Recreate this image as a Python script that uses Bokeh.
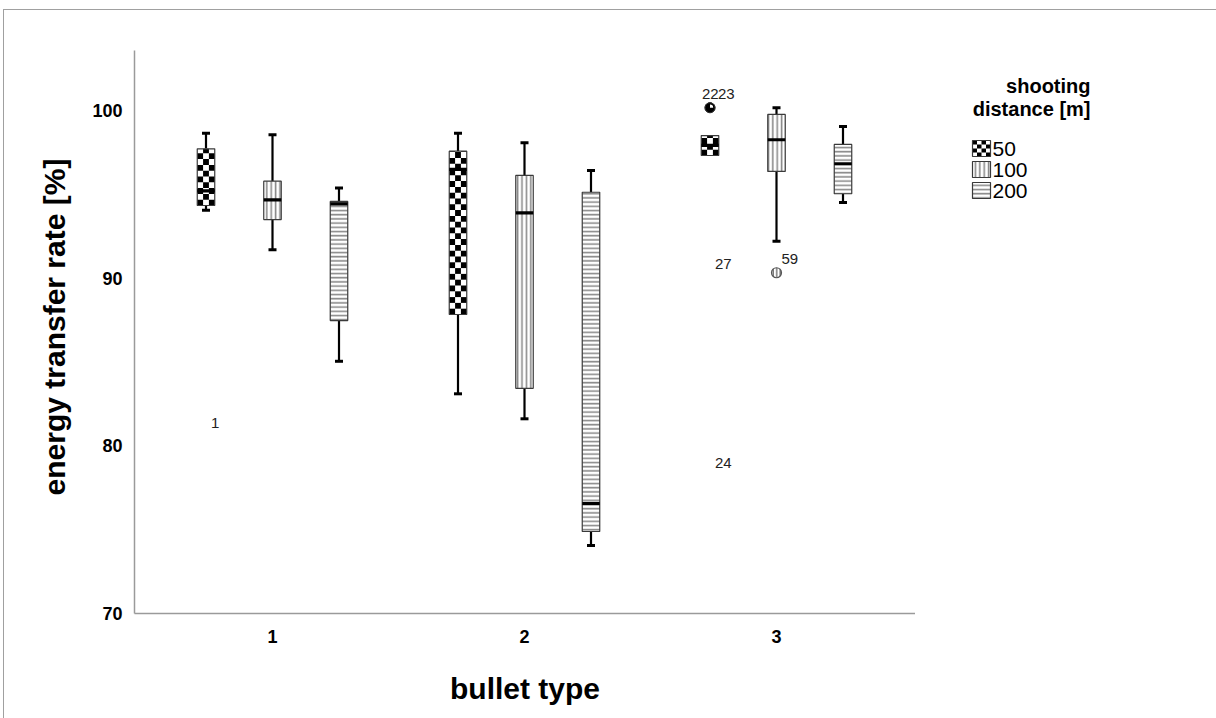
import numpy as np
from bokeh.plotting import figure
from bokeh.layouts import row
from bokeh.models import Range1d, FixedTicker
from bokeh.core.properties import value
from bokeh.embed import file_html
from bokeh.resources import INLINE

# ---------------- data ----------------
bullet_types = [1, 2, 3]
distances = ["50", "100", "200"]

box_bullet   = [1, 1, 1, 2, 2, 2, 3, 3, 3]
box_distance = ["50", "100", "200", "50", "100", "200", "50", "100", "200"]
whisker_low  = [94.04, 91.69, 85.04, 83.10, 81.61, 74.05, 97.31, 92.20, 94.51]
q1           = [94.33, 93.49, 87.47, 87.83, 83.43, 74.89, 97.31, 96.36, 95.03]
median       = [95.20, 94.67, 94.43, 96.48, 93.89, 76.56, 97.91, 98.25, 96.82]
q3           = [97.71, 95.78, 94.57, 97.57, 96.12, 95.12, 98.50, 99.76, 97.97]
whisker_high = [98.64, 98.55, 95.38, 98.64, 98.07, 96.42, 98.50, 100.16, 99.04]

out_bullet   = [1, 3, 3, 3, 3, 3]
out_distance = ["50", "50", "50", "50", "50", "100"]
out_value    = [80.55, 100.16, 100.16, 89.98, 78.11, 90.32]
out_case     = ["1", "22", "23", "27", "24", "59"]
out_marker   = [False, True, True, False, False, True]
out_label_dx = [5, -8, 8, 5, 5, 5]

y_ticks = [70, 80, 90, 100]
legend_title = ["shooting", "distance [m]"]

# ---------------- layout helpers ----------------
PX_X = 252.0      # pixels per bullet-type unit
PX_Y = 16.77      # pixels per percent
X0_PAGE = 272.0   # page x of category 1
Y0_PAGE = 613.0   # page y of 70 %

def px2x(px):
    return 1 + (px - X0_PAGE) / PX_X

def px2y(py):
    return 70 + (Y0_PAGE - py) / PX_Y

dodge = {"50": -66.5 / PX_X, "100": 0.0, "200": 66.5 / PX_X}
box_w = 17.5 / PX_X
cap_w = 8.0 / PX_X

x_start = px2x(134)
x_end = px2x(915)
y_end = px2y(40)

FONT = "Liberation Sans"
BOX_LINE = "#3a3a3a"
HATCH = "#8a8a8a"

p = figure(width=911, height=708, x_range=Range1d(x_start, x_end),
           y_range=Range1d(70, y_end), output_backend="svg",
           toolbar_location=None, min_border_left=130, min_border_right=0,
           min_border_top=30, min_border_bottom=105)
p.outline_line_color = None
p.xgrid.visible = False
p.ygrid.visible = False

for ax in (p.xaxis[0], p.yaxis[0]):
    ax.axis_line_color = "#9a9a9a"
    ax.axis_line_width = 1.5
    ax.major_tick_line_color = None
    ax.minor_tick_line_color = None
    ax.major_label_text_font = FONT
    ax.major_label_text_font_style = "bold"
    ax.major_label_text_font_size = "18px"
    ax.major_label_text_color = "black"
    ax.axis_label_text_font = FONT
    ax.axis_label_text_font_style = "bold"
    ax.axis_label_text_font_size = "30px"
    ax.axis_label_text_color = "black"

p.xaxis.ticker = FixedTicker(ticks=bullet_types)
p.xaxis.axis_label = "bullet type"
p.xaxis.major_label_standoff = 10
p.xaxis.axis_label_standoff = 26

p.yaxis.ticker = FixedTicker(ticks=y_ticks)
p.yaxis.bounds = (70, px2y(50))
p.yaxis.axis_label = "energy transfer rate [%]"
p.yaxis.major_label_standoff = 6
p.yaxis.axis_label_standoff = 18

# ---------------- boxes ----------------
bx = [b + dodge[d] for b, d in zip(box_bullet, box_distance)]

wx, wy0, wy1, cx, cy = [], [], [], [], []
for x, lo, a, b, hi in zip(bx, whisker_low, q1, q3, whisker_high):
    if hi > b + 1e-9:
        wx.append(x); wy0.append(b); wy1.append(hi); cx.append(x); cy.append(hi)
    if lo < a - 1e-9:
        wx.append(x); wy0.append(a); wy1.append(lo); cx.append(x); cy.append(lo)
p.segment(x0=wx, y0=wy0, x1=wx, y1=wy1, line_color="black", line_width=2.2)
p.segment(x0=[c - cap_w / 2 for c in cx], y0=cy, x1=[c + cap_w / 2 for c in cx],
          y1=cy, line_color="black", line_width=3)

hatch_map = {"50": None, "100": "vertical_line", "200": "horizontal_line"}
hatch_scale = {"100": 4.4, "200": 4.2}
for d in distances:
    idx = [i for i, dd in enumerate(box_distance) if dd == d]
    xs = [bx[i] for i in idx]
    tops = [q3[i] for i in idx]
    bots = [q1[i] for i in idx]
    if d == "50":
        p.vbar(x=xs, width=box_w, top=tops, bottom=bots, fill_color="white",
               line_color=None)
        cw = box_w / 3
        ch = 5.8 / PX_Y
        rx, ry, rw, rh = [], [], [], []
        for x, b, t in zip(xs, bots, tops):
            n = int(np.ceil((t - b) / ch))
            for r in range(n):
                y0 = b + r * ch
                y1 = min(t, y0 + ch)
                for c in range(3):
                    if (r + c) % 2 == 0:
                        rx.append(x - box_w / 2 + (c + 0.5) * cw)
                        ry.append((y0 + y1) / 2)
                        rw.append(cw)
                        rh.append(y1 - y0)
        p.rect(x=rx, y=ry, width=rw, height=rh, fill_color="black", line_color=None)
        p.vbar(x=xs, width=box_w, top=tops, bottom=bots, fill_color=None,
               line_color=BOX_LINE, line_width=1.2)
    else:
        p.vbar(x=xs, width=box_w, top=tops, bottom=bots, fill_color="white",
               line_color=BOX_LINE, line_width=1.2, hatch_pattern=hatch_map[d],
               hatch_color=HATCH, hatch_weight=1.6, hatch_scale=hatch_scale[d])

p.segment(x0=[x - box_w / 2 for x in bx], y0=median, x1=[x + box_w / 2 for x in bx],
          y1=median, line_color="black", line_width=3.2)

# ---------------- outliers ----------------
ox = [b + dodge[d] for b, d in zip(out_bullet, out_distance)]
for i, m in enumerate(out_marker):
    if not m:
        continue
    if out_distance[i] == "50":
        p.scatter(x=[ox[i]], y=[out_value[i]], size=10, marker="circle",
                  fill_color="black", line_color="#333333", line_width=1)
        p.wedge(x=[ox[i]], y=[out_value[i]], radius=3.2, radius_units="screen",
                start_angle=0, end_angle=np.pi / 2, fill_color="white", line_color=None)
    else:
        p.scatter(x=[ox[i]], y=[out_value[i]], size=10, marker="circle",
                  fill_color="white", line_color="#555555", line_width=1.2,
                  hatch_pattern="vertical_line", hatch_color="#777777",
                  hatch_weight=1.5, hatch_scale=3.5)
p.text(x=ox, y=out_value, text=out_case, x_offset=out_label_dx, y_offset=-14,
       text_font=value(FONT), text_font_size="15px", text_color="#222222",
       text_align="left", text_baseline="middle")

# ---------------- legend panel (coordinates = page pixels) ----------------
# the row aligns this panel's frame with the main frame (page y 40 .. 613)
lg = figure(width=301, height=708, x_range=Range1d(915, 1216),
            y_range=Range1d(613, 40), output_backend="svg", toolbar_location=None,
            x_axis_location=None, y_axis_location=None,
            min_border_left=0, min_border_right=0, min_border_top=30,
            min_border_bottom=105)
lg.outline_line_color = None
lg.xgrid.visible = False
lg.ygrid.visible = False

lg.text(x=[1090, 1090], y=[85, 108], text=legend_title, text_font=value(FONT),
        text_font_style="bold", text_font_size="20px", text_color="black",
        text_align="right", text_baseline="middle")

row_y = [148, 169, 190]
sw_x0, sw_w, sw_h = 972, 18, 16
sw_xc = sw_x0 + sw_w / 2
cw = sw_w / 4
chh = sw_h / 4
rx, ry = [], []
for r in range(4):
    for c in range(4):
        if (r + c) % 2 == 0:
            rx.append(sw_x0 + (c + 0.5) * cw)
            ry.append(row_y[0] - sw_h / 2 + (r + 0.5) * chh)
lg.rect(x=rx, y=ry, width=cw, height=chh, fill_color="black", line_color=None)
lg.rect(x=[sw_xc], y=[row_y[0]], width=sw_w, height=sw_h, fill_color=None,
        line_color=BOX_LINE, line_width=1.2)
lg.rect(x=[sw_xc], y=[row_y[1]], width=sw_w, height=sw_h, fill_color="white",
        line_color=BOX_LINE, line_width=1.2, hatch_pattern="vertical_line",
        hatch_color=HATCH, hatch_weight=1.6, hatch_scale=4.4)
lg.rect(x=[sw_xc], y=[row_y[2]], width=sw_w, height=sw_h, fill_color="white",
        line_color=BOX_LINE, line_width=1.2, hatch_pattern="horizontal_line",
        hatch_color=HATCH, hatch_weight=1.6, hatch_scale=4.2)
lg.text(x=[992] * 3, y=row_y, text=distances, text_font=value(FONT),
        text_font_size="21px", text_color="black", text_align="left",
        text_baseline="middle")

layout = row(p, lg)
layout.styles = {"margin-left": "3px", "margin-top": "9px",
                 "border-top": "1px solid #a0a0a0",
                 "border-left": "1px solid #a0a0a0"}

open("out.html", "w").write(file_html(layout, INLINE))
